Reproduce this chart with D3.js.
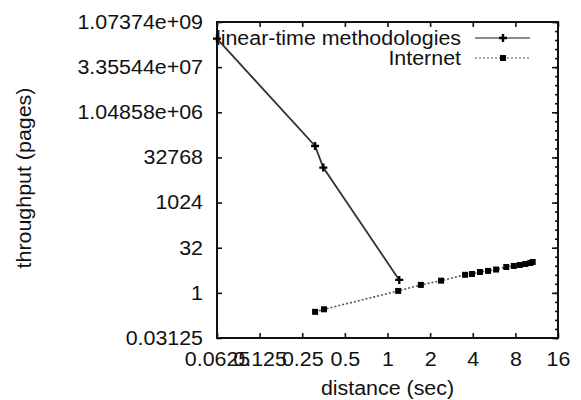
<!DOCTYPE html>
<html>
<head>
<meta charset="utf-8">
<script src="https://cdn.jsdelivr.net/npm/d3@7"></script>
<style>
  body { margin: 0; background: #fff; }
  text { font-family: "Liberation Sans", Arial, sans-serif; fill: #111; }
</style>
</head>
<body>
<script>
// values (log2 axes)
const nearTimeX = [0.0625, 0.308, 0.352, 1.21];
const nearTimeY = [3.0e8, 79000, 15000, 2.7];

const internetX = [0.308, 0.356, 1.19, 1.72, 2.39, 3.53, 3.95, 4.5, 5.13, 5.85, 6.9, 7.8, 8.6, 9.4, 10.2, 10.6];
const internetY = [0.233, 0.283, 1.16, 1.84, 2.55, 4.0, 4.25, 4.96, 5.4, 6.0, 7.3, 7.9, 8.5, 9.2, 9.9, 10.7];

const xTicks = [0.0625, 0.125, 0.25, 0.5, 1, 2, 4, 8, 16];
const xTickLabels = ["0.0625", "0.125", "0.25", "0.5", "1", "2", "4", "8", "16"];
const yTicks = [0.03125, 1, 32, 1024, 32768, 1048576, 33554432, 1073741824];
const yTickLabels = ["0.03125", "1", "32", "1024", "32768", "1.04858e+06", "3.35544e+07", "1.07374e+09"];
const seriesNames = ["linear-time methodologies", "Internet"];

const width = 581,
  height = 400;
const margin = { top: 22, right: 23, bottom: 62, left: 217 };
const fontSize = 20;
const stretch = 1.07; // the reference glyphs run a little wide

const svg = d3
  .select("body")
  .append("svg")
  .attr("width", width)
  .attr("height", height);

const x = d3
  .scaleLog()
  .base(2)
  .domain([0.0625, 16])
  .range([margin.left, width - margin.right]);

const y = d3
  .scaleLog()
  .base(2)
  .domain([0.03125, 1073741824])
  .range([height - margin.bottom, margin.top]);

// minor ticks on the right side, one per power of two
const yMinor = d3.range(-5, 31).map((e) => Math.pow(2, e));

// axes, ticks pointing inward
const bottomAxis = svg
  .append("g")
  .attr("transform", `translate(0,${y.range()[0]})`)
  .call(d3.axisBottom(x).tickValues(xTicks).tickSize(-5).tickFormat((d, i) => xTickLabels[i]).tickPadding(14));
const topAxis = svg
  .append("g")
  .attr("transform", `translate(0,${y.range()[1]})`)
  .call(d3.axisTop(x).tickValues(xTicks).tickSize(-5).tickFormat(""));
const leftAxis = svg
  .append("g")
  .attr("transform", `translate(${x.range()[0]},0)`)
  .call(d3.axisLeft(y).tickValues(yTicks).tickSize(-5).tickFormat((d, i) => yTickLabels[i]).tickPadding(14));
const rightMinor = svg
  .append("g")
  .attr("transform", `translate(${x.range()[1]},0)`)
  .call(d3.axisRight(y).tickValues(yMinor).tickSize(-3).tickFormat(""));
const rightAxis = svg
  .append("g")
  .attr("transform", `translate(${x.range()[1]},0)`)
  .call(d3.axisRight(y).tickValues(yTicks).tickSize(-6).tickFormat(""));

[bottomAxis, topAxis, leftAxis, rightAxis, rightMinor].forEach((g) => {
  g.select(".domain").remove();
  g.selectAll("line").attr("stroke", "#111").attr("stroke-width", 1.6);
  g.selectAll("text").attr("font-size", fontSize).attr("fill", "#111").attr("font-family", null);
});

// frame
svg
  .append("rect")
  .attr("x", x.range()[0])
  .attr("y", y.range()[1])
  .attr("width", x.range()[1] - x.range()[0])
  .attr("height", y.range()[0] - y.range()[1])
  .attr("fill", "none")
  .attr("stroke", "#111")
  .attr("stroke-width", 2);

// axis titles
svg
  .append("text")
  .attr("x", (x.range()[0] + x.range()[1]) / 2)
  .attr("y", 395)
  .attr("text-anchor", "middle")
  .attr("font-size", fontSize)
  .text("distance (sec)");

svg
  .append("text")
  .attr("transform", `translate(31,${(y.range()[0] + y.range()[1]) / 2 - 2}) rotate(-90)`)
  .attr("text-anchor", "middle")
  .attr("font-size", fontSize)
  .text("throughput (pages)");

const line = d3
  .line()
  .x((d) => x(d[0]))
  .y((d) => y(d[1]));

const nearTime = nearTimeX.map((v, i) => [v, nearTimeY[i]]);
const internet = internetX.map((v, i) => [v, internetY[i]]);

// markers
function plus(g, cx, cy) {
  g.append("path")
    .attr("d", `M${cx - 4},${cy}H${cx + 4}M${cx},${cy - 4}V${cy + 4}`)
    .attr("stroke", "#000")
    .attr("stroke-width", 2.4);
}
function square(g, cx, cy) {
  g.append("rect")
    .attr("x", cx - 3)
    .attr("y", cy - 3)
    .attr("width", 6)
    .attr("height", 6)
    .attr("fill", "#000");
}

// legend
const legend = svg.append("g");
const legendY = [38, 58];
legend
  .selectAll("text")
  .data(seriesNames)
  .join("text")
  .attr("x", 461)
  .attr("y", (d, i) => legendY[i] + 7)
  .attr("text-anchor", "end")
  .attr("font-size", fontSize)
  .attr("fill", "#24163e")
  .text((d) => d);

legend
  .append("line")
  .attr("x1", 475).attr("x2", 530)
  .attr("y1", legendY[0]).attr("y2", legendY[0])
  .attr("stroke", "#666").attr("stroke-width", 1.6);
plus(legend, 503, legendY[0]);
legend
  .append("line")
  .attr("x1", 475).attr("x2", 530)
  .attr("y1", legendY[1]).attr("y2", legendY[1])
  .attr("stroke", "#888").attr("stroke-width", 1.6)
  .attr("stroke-dasharray", "2,2");
square(legend, 503, legendY[1]);

// series
svg
  .append("path")
  .datum(internet)
  .attr("d", line)
  .attr("fill", "none")
  .attr("stroke", "#555")
  .attr("stroke-width", 1.6)
  .attr("stroke-dasharray", "2,2");
const internetMarks = svg.append("g");
internet.forEach((d) => square(internetMarks, x(d[0]), y(d[1])));

svg
  .append("path")
  .datum(nearTime)
  .attr("d", line)
  .attr("fill", "none")
  .attr("stroke", "#333")
  .attr("stroke-width", 1.8);
const nearMarks = svg.append("g");
nearTime.forEach((d) => plus(nearMarks, x(d[0]), y(d[1])));

// widen every text run a little, as in the reference
svg.selectAll("text").each(function () {
  const w = this.getComputedTextLength();
  if (w > 0) {
    d3.select(this).attr("textLength", w * stretch).attr("lengthAdjust", "spacingAndGlyphs");
  }
});
</script>
</body>
</html>
